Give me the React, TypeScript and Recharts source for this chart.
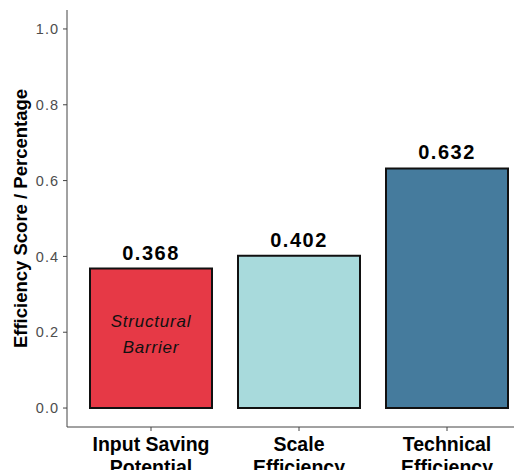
import React from "react";
import {
  BarChart,
  Bar,
  XAxis,
  YAxis,
  Cell,
  LabelList,
  ReferenceDot,
} from "recharts";

const categories = ["Input Saving Potential", "Scale Efficiency", "Technical Efficiency"];
const scores = [0.368, 0.402, 0.632];
const barColors = ["#E63946", "#A8DADC", "#457B9D"];
const yTicks = [0, 0.2, 0.4, 0.6, 0.8, 1.0];
const tickLines: Record<string, string[]> = {
  "Input Saving Potential": ["Input Saving", "Potential"],
  "Scale Efficiency": ["Scale", "Efficiency"],
  "Technical Efficiency": ["Technical", "Efficiency"],
};
const annotation = { category: "Input Saving Potential", y: 0.2, lines: ["Structural", "Barrier"] };

const data = categories.map((name, i) => ({ name, value: scores[i] }));

const FONT = "'Liberation Sans', Arial, sans-serif";

function XTick(props: any) {
  const { x, y, payload } = props;
  const lines = tickLines[payload.value] || [payload.value];
  return (
    <text x={x} y={y + 18} textAnchor="middle" fontFamily={FONT} fontSize={19.5} fontWeight="bold" fill="#000">
      {lines.map((l, i) => (
        <tspan key={i} x={x} dy={i === 0 ? 0 : 23}>
          {l}
        </tspan>
      ))}
    </text>
  );
}

function AnnotationShape(props: any) {
  const { cx, cy } = props;
  return (
    <text
      x={cx}
      y={cy - 5}
      textAnchor="middle"
      fontFamily={FONT}
      fontSize={17}
      fontStyle="italic"
      letterSpacing={0.8}
      fill="#111"
    >
      {annotation.lines.map((l, i) => (
        <tspan key={i} x={cx} dy={i === 0 ? 0 : 26}>
          {l}
        </tspan>
      ))}
    </text>
  );
}

function YTitle(props: any) {
  const vb = props.viewBox || { y: 10, height: 417 };
  const cy = vb.y + vb.height / 2;
  return (
    <text
      x={20}
      y={cy}
      transform={`rotate(-90 20 ${cy})`}
      textAnchor="middle"
      dominantBaseline="central"
      fontFamily={FONT}
      fontSize={18.5}
      fontWeight="bold"
      fill="#000"
    >
      Efficiency Score / Percentage
    </text>
  );
}

export default function App() {
  return (
    <div style={{ position: "absolute", left: 0, top: 0, width: 514, height: 470, overflow: "hidden", background: "#fff" }}>
      <BarChart
        width={540}
        height={470}
        data={data}
        margin={{ top: 10, right: 9, bottom: 0, left: 0 }}
        barCategoryGap={13}
      >
        <XAxis
          dataKey="name"
          height={43}
          padding={{ left: 10, right: 10 }}
          axisLine={{ stroke: "#444", strokeWidth: 1 }}
          tickLine={{ stroke: "#444" }}
          tickSize={4}
          tick={<XTick />}
          interval={0}
        />
        <YAxis
          width={67}
          domain={[-0.05, 1.05]}
          ticks={yTicks}
          allowDataOverflow
          tickFormatter={(v: number) => v.toFixed(1)}
          axisLine={{ stroke: "#444", strokeWidth: 1 }}
          tickLine={{ stroke: "#444" }}
          tickSize={4}
          tickMargin={4}
          tick={{ fontFamily: FONT, fontSize: 14.5, fill: "#4D4D4D", letterSpacing: 1 }}
          label={<YTitle />}
        />
        <Bar dataKey="value" stroke="#111" strokeWidth={2} isAnimationActive={false}>
          {data.map((d, i) => (
            <Cell key={d.name} fill={barColors[i]} />
          ))}
          <LabelList
            dataKey="value"
            position="top"
            offset={9}
            formatter={(v: any) => Number(v).toFixed(3)}
            style={{ fontFamily: FONT, fontSize: 20, fontWeight: "bold", fill: "#000", letterSpacing: 1.5 }}
          />
        </Bar>
        <ReferenceDot
          x={annotation.category}
          y={annotation.y}
          r={0}
          isFront
          shape={<AnnotationShape />}
        />
      </BarChart>
    </div>
  );
}
